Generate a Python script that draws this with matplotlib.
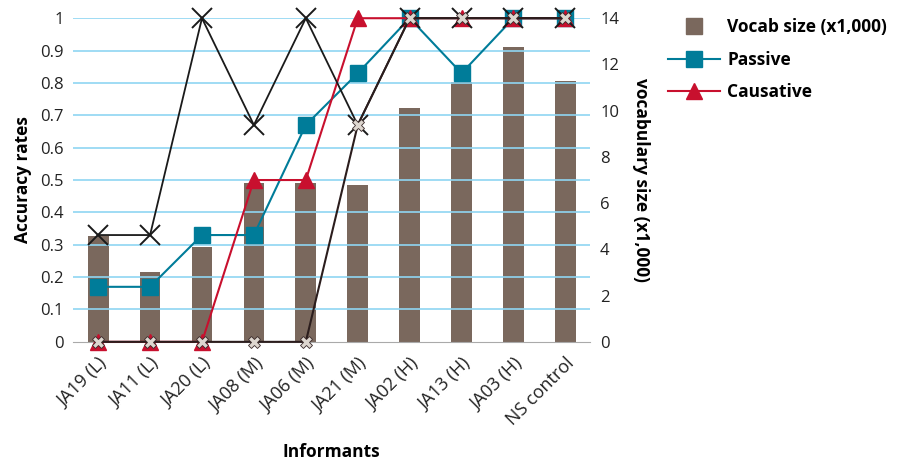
import numpy as np
import matplotlib
matplotlib.use("Agg")
import matplotlib.pyplot as plt
from matplotlib.lines import Line2D

plt.rcParams['font.family'] = ['Open Sans', 'DejaVu Sans']

# data
informants = ['JA19 (L)', 'JA11 (L)', 'JA20 (L)', 'JA08 (M)', 'JA06 (M)',
              'JA21 (M)', 'JA02 (H)', 'JA13 (H)', 'JA03 (H)', 'NS control']
vocab_size = [4.6, 3.0, 4.1, 6.85, 6.85, 6.8, 10.1, 11.25, 12.75, 11.3]
passive = [0.17, 0.17, 0.33, 0.33, 0.67, 0.83, 1, 0.83, 1, 1]
causative = [0, 0, 0, 0.5, 0.5, 1, 1, 1, 1, 1]
series_x = [0.33, 0.33, 1, 0.67, 1, 0.67, 1, 1, 1, 1]
series_star = [0, 0, 0, 0, 0, 0.67, 1, 1, 1, 1]

bar_col = '#7a685d'
passive_col = '#007c99'
caus_col = '#c8102e'
grid_col = '#8fd6f2'

fig = plt.figure(figsize=(9.04, 4.67), dpi=100)
ax = fig.add_axes([0.081, 0.268, 0.572, 0.693])
ax2 = ax.twinx()

x = np.arange(len(informants))

# bars on the right axis
ax2.bar(x, vocab_size, width=0.4, color=bar_col, zorder=1)
ax2.set_ylim(0, 14)
ax2.set_yticks(range(0, 15, 2))

# lines on the left axis, drawn above the bars
ax.set_zorder(ax2.get_zorder() + 1)
ax.patch.set_visible(False)

ax.plot(x, passive, color=passive_col, lw=1.5, marker='s', ms=11,
        mfc=passive_col, mec=passive_col, clip_on=False, zorder=3)
ax.plot(x, causative, color=caus_col, lw=1.5, marker='^', ms=12,
        mfc=caus_col, mec=caus_col, clip_on=False, zorder=4)
ax.plot(x, series_x, color='#1a1a1a', lw=1.3, marker='x', ms=15, mew=1.4,
        clip_on=False, zorder=5)
ax.plot(x, series_star, color='#2b1d1d', lw=1.5, marker='X', ms=8,
        mfc='#ddd6cf', mec='#3a2a2a', mew=0.6, clip_on=False, zorder=6)

ax.set_ylim(0, 1)
ax.set_xlim(-0.48, 9.48)
ax.set_yticks(np.arange(0, 1.01, 0.1))
ax.set_yticklabels(['0'] + ['%.1f' % v for v in np.arange(0.1, 0.95, 0.1)] + ['1'])
for v in np.arange(0.1, 1.01, 0.1):
    ax.axhline(v, color=grid_col, lw=1.2, zorder=0)

for a in (ax, ax2):
    for s in a.spines.values():
        s.set_visible(False)
    a.tick_params(length=0, labelsize=12, colors='#222222')
ax.spines['bottom'].set_visible(True)
ax.spines['bottom'].set_color('#aaaaaa')

ax.set_xticks(x)
ax.set_xticklabels(informants, rotation=45, ha='right', rotation_mode='anchor',
                   fontsize=13)
ax.tick_params(axis='x', pad=9)
ax.tick_params(axis='y', pad=7)
ax2.tick_params(axis='y', pad=7)

ax.set_ylabel('Accuracy rates', fontsize=12.5, fontweight='bold', labelpad=6)
ax.set_xlabel('Informants', fontsize=12.5, fontweight='bold', labelpad=10)
ax2.set_ylabel('vocabulary size (x1,000)', fontsize=12.5, fontweight='bold',
               rotation=-90, labelpad=22)

handles = [
    Line2D([], [], ls='none', marker='s', ms=12, mfc=bar_col, mec=bar_col),
    Line2D([], [], color=passive_col, lw=1.5, marker='s', ms=11, mfc=passive_col, mec=passive_col),
    Line2D([], [], color=caus_col, lw=1.5, marker='^', ms=12, mfc=caus_col, mec=caus_col),
]
leg = fig.legend(handles, ['Vocab size (x1,000)', 'Passive', 'Causative'],
                 loc='upper left', bbox_to_anchor=(0.722, 0.995), frameon=False,
                 prop={'weight': 'bold', 'size': 12.5}, handlelength=3.0,
                 labelspacing=0.85, handletextpad=0.4)

fig.savefig('out.png', dpi=100)
